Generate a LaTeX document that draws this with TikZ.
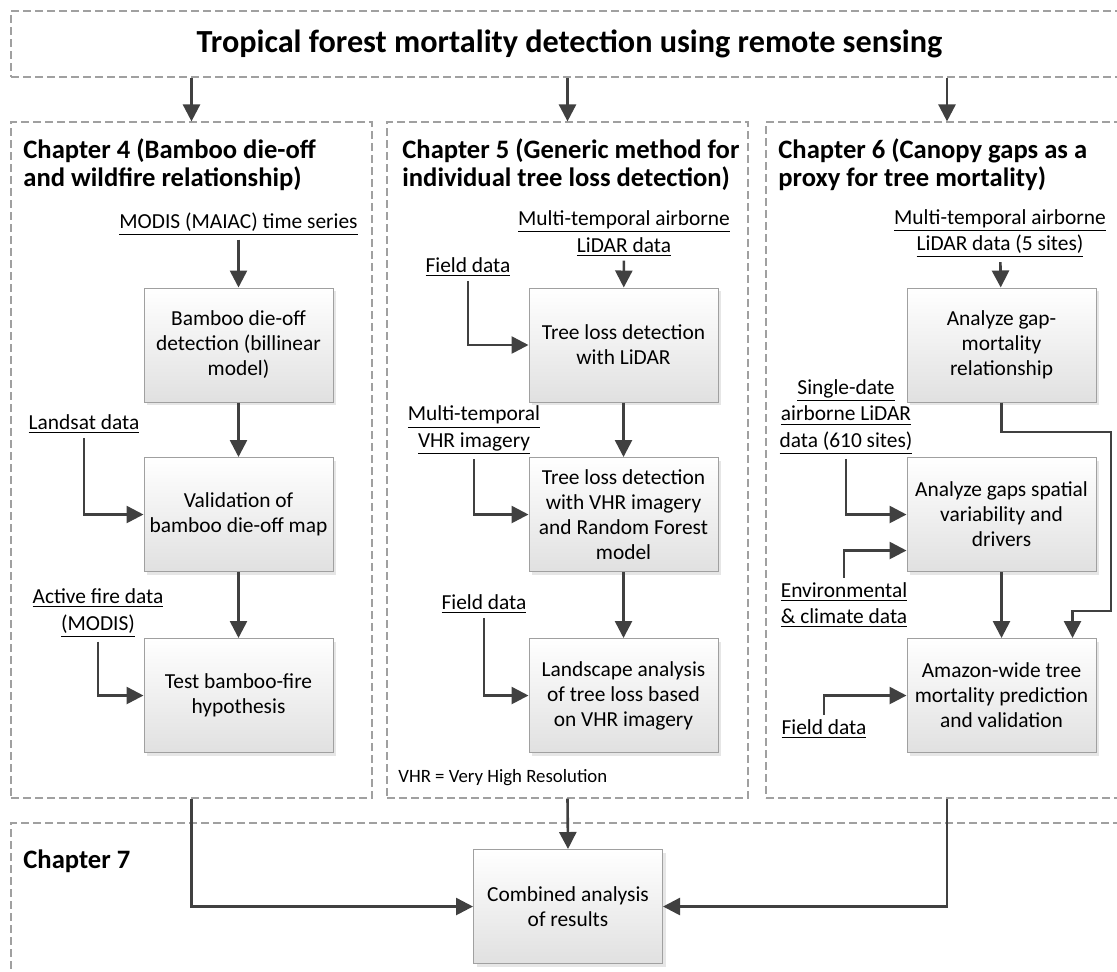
\documentclass[tikz,border=0pt]{standalone}
\usepackage{fontspec}
\setmainfont{Carlito}
\usetikzlibrary{positioning,arrows.meta,shadows,calc}
\definecolor{arrowgray}{HTML}{404040}
\definecolor{framegray}{HTML}{A0A0A0}

\begin{document}
\begin{tikzpicture}[
  x=0.5pt, y=-0.5pt,
  chapFrame/.style={draw=framegray, dash pattern=on 4pt off 2pt,
                    line width=0.6pt, inner sep=0pt},
  procBox/.style={draw=framegray, line width=0.5pt, top color=white,
                  bottom color=black!12, minimum width=94.5pt,
                  minimum height=57pt, align=center, inner sep=2pt,
                  font=\fontsize{10.7}{12.5}\selectfont,
                  drop shadow={shadow xshift=1.5pt, shadow yshift=-1.5pt,
                               opacity=0.2}},
  dataLbl/.style={align=center, inner sep=2pt,
                  font=\fontsize{10.7}{13.3}\selectfont},
  chapHead/.style={anchor=north west, align=left, inner sep=0pt,
                   font=\bfseries\fontsize{13.3}{14}\selectfont},
  flow/.style={draw=arrowgray, line width=1.3pt,
               -{Triangle[length=8.5pt,width=8.5pt]}}
]
  \useasboundingbox (0,0) rectangle (1117,971);
  \clip (0,0) rectangle (1117,971);

  % Dashed frames
  \node[chapFrame, minimum width=558.5pt, minimum height=33pt,
        font=\bfseries\fontsize{16.1}{19}\selectfont] (title) at (569.5,44)
    {Tropical forest mortality detection using remote sensing};
  \node[chapFrame, minimum width=180.5pt, minimum height=338pt] (ch4) at (191.5,460) {};
  \node[chapFrame, minimum width=180.5pt, minimum height=338pt] (ch5) at (567.5,460) {};
  \node[chapFrame, minimum width=181pt, minimum height=338pt] (ch6) at (947,460) {};
  \node[chapFrame, minimum width=558.5pt, minimum height=86pt] (ch7) at (569.5,909) {};

  \foreach \ch in {ch4,ch5,ch6}
    \draw[flow] (title.south -| \ch.north) -- (\ch.north);

  % Chapter headings
  \node[chapHead] (h4) at (23,138) {Chapter 4 (Bamboo die-off\\and wildfire relationship)};
  \node[chapHead] (h5) at (402,138) {Chapter 5 (Generic method for\\individual tree loss detection)};
  \node[chapHead] (h6) at (778,138) {Chapter 6 (Canopy gaps as a\\proxy for tree mortality)};
  \node[chapHead, anchor=west] (h7) at (23,861) {Chapter 7};

  % Chapter 4
  \node[procBox] (bamboo) at (238.5,345) {Bamboo die-off\\detection (billinear\\model)};
  \node[procBox] (valid) at (238.5,514.5) {Validation of\\bamboo die-off map};
  \node[procBox] (fire) at (238.5,695.5) {Test bamboo-fire\\hypothesis};
  \node[dataLbl] (modis) at (238.5,224) {\underline{MODIS (MAIAC) time series}};
  \node[dataLbl] (landsat) at (84,424) {\underline{Landsat data}};
  \node[dataLbl] (actfire) at (98,613) {\underline{Active fire data}\\\underline{(MODIS)}};
  \draw[flow] (modis) -- (bamboo);
  \draw[flow] (bamboo) -- (valid);
  \draw[flow] (valid) -- (fire);
  \draw[flow] (landsat) |- (valid);
  \draw[flow] (actfire) |- (fire);

  % Chapter 5
  \node[procBox] (lidarloss) at (623.5,345) {Tree loss detection\\with LiDAR};
  \node[procBox] (vhrloss) at (623.5,514.5) {Tree loss detection\\with VHR imagery\\and Random Forest\\model};
  \node[procBox] (landscape) at (623.5,695.5) {Landscape analysis\\of tree loss based\\on VHR imagery};
  \node[dataLbl] (mtlidar) at (624,233.5) {\underline{Multi-temporal airborne}\\\underline{LiDAR data}};
  \node[dataLbl] (fieldA) at (468,267) {\underline{Field data}};
  \node[dataLbl] (mtvhr) at (474,430.5) {\underline{Multi-temporal}\\\underline{VHR imagery}};
  \node[dataLbl] (fieldB) at (484,604) {\underline{Field data}};
  \node[anchor=west, inner sep=0pt, font=\fontsize{9.4}{11}\selectfont] (vhrnote) at (398,778)
    {VHR = Very High Resolution};
  \draw[flow] (mtlidar) -- (lidarloss);
  \draw[flow] (lidarloss) -- (vhrloss);
  \draw[flow] (vhrloss) -- (landscape);
  \draw[flow] (fieldA) |- (lidarloss);
  \draw[flow] (mtvhr) |- (vhrloss);
  \draw[flow] (fieldB) |- (landscape);

  % Chapter 6
  \node[procBox] (gapmort) at (1001.5,345) {Analyze gap-\\mortality\\relationship};
  \node[procBox] (gapvar) at (1001.5,514.5) {Analyze gaps spatial\\variability and\\drivers};
  \node[procBox] (amazon) at (1001.5,695.5) {Amazon-wide tree\\mortality prediction\\and validation};
  \node[dataLbl] (mtlidarB) at (1000,233.5) {\underline{Multi-temporal airborne}\\\underline{LiDAR data (5 sites)}};
  \node[dataLbl] (single) at (846,417) {\underline{Single-date}\\\underline{airborne LiDAR}\\\underline{data (610 sites)}};
  \node[dataLbl] (envclim) at (844,605) {\underline{Environmental}\\\underline{\& climate data}};
  \node[dataLbl] (fieldC) at (824,729) {\underline{Field data}};
  \coordinate (bendA) at (1111,432);
  \coordinate (bendB) at (1111,611);
  \draw[flow] (mtlidarB) -- (gapmort);
  \draw[flow] (gapvar) -- (amazon);
  \draw[flow] (single) |- (gapvar);
  \draw[flow] (envclim) |- ([yshift=-18pt]gapvar.west);
  \draw[flow] (fieldC) |- (amazon);
  \draw[flow] (gapmort.south) |- (bendA) -- (bendB) -| ([xshift=-12pt]amazon.north east);

  % Chapter 7
  \node[procBox] (combined) at (568,906.5) {Combined analysis\\of results};
  \draw[flow] (ch5.south) -- (combined.north);
  \draw[flow] (ch4.south) |- (combined);
  \draw[flow] (ch6.south) |- (combined);
\end{tikzpicture}
\end{document}
